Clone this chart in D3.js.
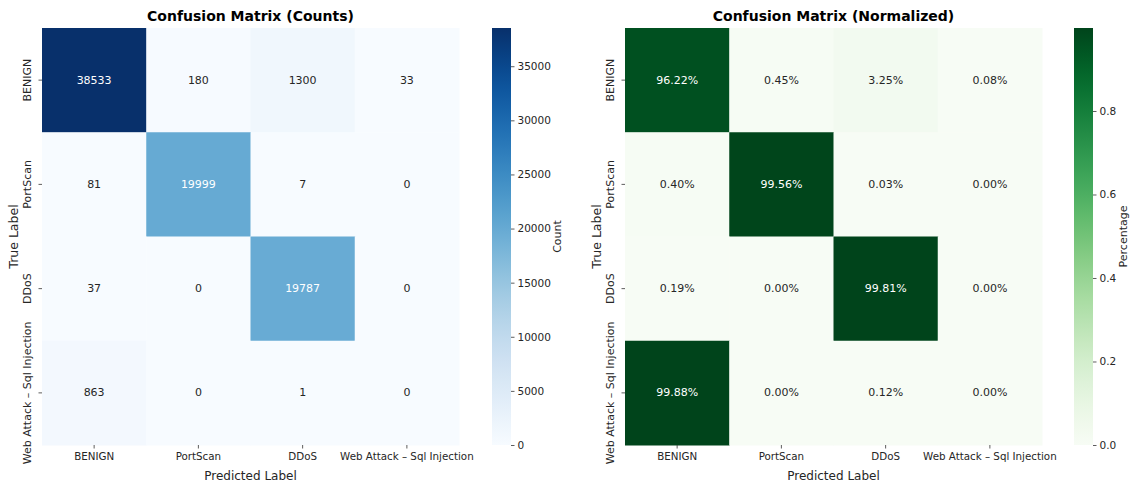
<!DOCTYPE html>
<html><head><meta charset="utf-8">
<script src="https://cdn.jsdelivr.net/npm/d3@7"></script>
<style>body{margin:0;background:#fff;} text{font-family:"DejaVu Sans",sans-serif;}</style>
</head><body>
<svg id="chart" width="1132" height="483"></svg>
<script>
const classes = ["BENIGN", "PortScan", "DDoS", "Web Attack \u2013 Sql Injection"];
const countsMatrix = [
  [38533, 180, 1300, 33],
  [81, 19999, 7, 0],
  [37, 0, 19787, 0],
  [863, 0, 1, 0]
];
const normMatrix = [
  [0.9622, 0.0045, 0.0325, 0.0008],
  [0.0040, 0.9956, 0.0003, 0.0000],
  [0.0019, 0.0000, 0.9981, 0.0000],
  [0.9988, 0.0000, 0.0012, 0.0000]
];
const countTicks = [0, 5000, 10000, 15000, 20000, 25000, 30000, 35000];
const normTicks = [0.0, 0.2, 0.4, 0.6, 0.8];

const svg = d3.select("#chart");
const TOP = 28, SIZE = 417;

function lum(c){
  const rgb = d3.rgb(c);
  const f = v => { v/=255; return v <= 0.03928 ? v/12.92 : Math.pow((v+0.055)/1.055, 2.4); };
  return 0.2126*f(rgb.r)+0.7152*f(rgb.g)+0.0722*f(rgb.b);
}

function panel(opt){
  const g = svg.append("g");
  const x = d3.scaleBand().domain(d3.range(classes.length)).range([opt.x0, opt.x0+SIZE]);
  const y = d3.scaleBand().domain(d3.range(classes.length)).range([TOP, TOP+SIZE]);
  const vmax = d3.max(opt.data.flat()), vmin = d3.min(opt.data.flat());
  const color = d3.scaleSequential(opt.interp).domain([vmin, vmax]);
  const cells = [];
  opt.data.forEach((row,i)=>row.forEach((v,j)=>cells.push({i,j,v})));
  g.selectAll("rect.cell").data(cells).join("rect")
    .attr("x", d=>x(d.j)).attr("y", d=>y(d.i))
    .attr("width", x.bandwidth()+0.5).attr("height", y.bandwidth()+0.5)
    .attr("fill", d=>color(d.v));
  g.selectAll("text.ann").data(cells).join("text")
    .attr("x", d=>x(d.j)+x.bandwidth()/2).attr("y", d=>y(d.i)+y.bandwidth()/2)
    .attr("text-anchor","middle").attr("dominant-baseline","central")
    .attr("font-size",11)
    .attr("fill", d=> lum(color(d.v)) > 0.408 ? "#262626" : "#ffffff")
    .text(d=>opt.fmt(d.v));
  // axes
  const xa = g.append("g").attr("transform",`translate(0,${TOP+SIZE})`)
    .call(d3.axisBottom(x).tickSize(3.5).tickPadding(4).tickFormat(i=>classes[i]));
  const ya = g.append("g").attr("transform",`translate(${opt.x0},0)`)
    .call(d3.axisLeft(y).tickSize(3.5).tickPadding(4).tickFormat(i=>classes[i]));
  [xa,ya].forEach(a=>{
    a.select(".domain").remove();
    a.selectAll("line").attr("stroke","#333").attr("stroke-width",0.8);
    a.selectAll("text").attr("fill","#262626").attr("font-family","DejaVu Sans");
  });
  xa.selectAll("text").attr("font-size",10.3);
  ya.selectAll("text")
    .attr("font-size",11)
    .attr("x",0).attr("y",0).attr("dy",null)
    .attr("text-anchor","middle")
    .attr("transform","translate(-11,0) rotate(-90)");
  // title
  g.append("text").attr("x", opt.x0+SIZE/2).attr("y", 21).attr("text-anchor","middle")
    .attr("font-size",14).attr("font-weight","bold").attr("fill","#000").text(opt.title);
  g.append("text").attr("x", opt.x0+SIZE/2).attr("y", 480).attr("text-anchor","middle")
    .attr("font-size",12).attr("fill","#262626").text("Predicted Label");
  g.append("text").attr("transform",`translate(${opt.x0-24},${TOP+SIZE/2}) rotate(-90)`)
    .attr("text-anchor","middle").attr("font-size",12.5).attr("fill","#262626").text("True Label");
  // colorbar
  const cbx = opt.cbx, cbw = 19;
  const gid = "grad"+opt.id;
  const grad = svg.append("defs").append("linearGradient").attr("id",gid)
    .attr("x1",0).attr("y1",1).attr("x2",0).attr("y2",0);
  d3.range(0,1.0001,0.05).forEach(t=>{
    grad.append("stop").attr("offset",t).attr("stop-color", color(vmin + t*(vmax-vmin)));
  });
  g.append("rect").attr("x",cbx).attr("y",TOP).attr("width",cbw).attr("height",SIZE).attr("fill",`url(#${gid})`);
  const cs = d3.scaleLinear().domain([vmin,vmax]).range([TOP+SIZE, TOP]);
  const ca = g.append("g").attr("transform",`translate(${cbx+cbw},0)`)
    .call(d3.axisRight(cs).tickValues(opt.ticks).tickSize(3.5).tickPadding(3).tickFormat(opt.tickFmt));
  ca.select(".domain").remove();
  ca.selectAll("line").attr("stroke","#333").attr("stroke-width",0.8);
  ca.selectAll("text").attr("font-size",10.5).attr("fill","#262626").attr("font-family","DejaVu Sans");
  g.append("text").attr("transform",`translate(${opt.cblx},${TOP+SIZE/2}) rotate(-90)`)
    .attr("text-anchor","middle").attr("font-size",11).attr("fill","#262626").text(opt.cbLabel);
}

panel({id:1, x0:42, data:countsMatrix, interp:d3.interpolateBlues, fmt:d=>String(d),
  title:"Confusion Matrix (Counts)", cbx:492, ticks:countTicks, tickFmt:d=>String(d), cbLabel:"Count", cblx:561});
panel({id:2, x0:625, data:normMatrix, interp:d3.interpolateGreens, fmt:d=>(d*100).toFixed(2)+"%",
  title:"Confusion Matrix (Normalized)", cbx:1074, ticks:normTicks, tickFmt:d3.format(".1f"), cbLabel:"Percentage", cblx:1127});
</script>
</body></html>
